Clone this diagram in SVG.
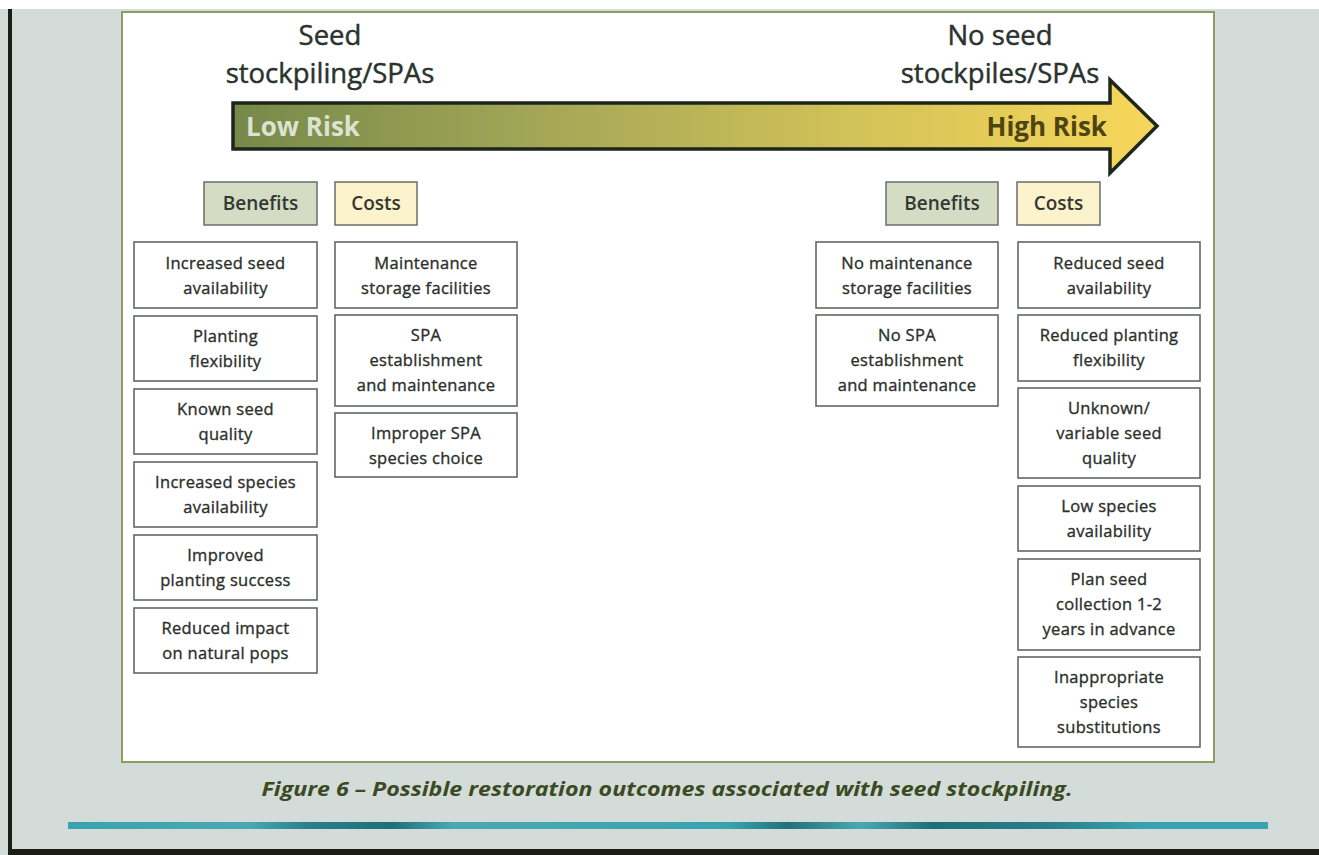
<svg xmlns="http://www.w3.org/2000/svg" width="1319" height="855" viewBox="0 0 1319 855">
<defs>
<linearGradient id="arrowGrad" x1="233" y1="0" x2="1157" y2="0" gradientUnits="userSpaceOnUse">
<stop offset="0" stop-color="#76894a"/>
<stop offset="0.35" stop-color="#a6a857"/>
<stop offset="0.7" stop-color="#d6c458"/>
<stop offset="1" stop-color="#f7d75a"/>
</linearGradient>
<linearGradient id="stripe" x1="68" y1="0" x2="1268" y2="0" gradientUnits="userSpaceOnUse">
<stop offset="0" stop-color="#3aa3b0"/>
<stop offset="0.15" stop-color="#4aa8b2"/>
<stop offset="0.2" stop-color="#2a7f8c"/>
<stop offset="0.27" stop-color="#1f6f7c"/>
<stop offset="0.32" stop-color="#4aa8b2"/>
<stop offset="0.55" stop-color="#3aa3b0"/>
<stop offset="0.6" stop-color="#22707c"/>
<stop offset="0.66" stop-color="#4aa8b2"/>
<stop offset="0.72" stop-color="#1f6f7c"/>
<stop offset="0.82" stop-color="#2a7f8c"/>
<stop offset="0.9" stop-color="#3aa3b0"/>
<stop offset="1" stop-color="#3aa3b0"/>
</linearGradient>
</defs>
<style>
.box{fill:#ffffff;stroke:#5a5f5a;stroke-width:1.5}
.ben{fill:#d4dcc4;stroke:#6a6f6a;stroke-width:1.5}
.cost{fill:#fcf2cc;stroke:#6a6f6a;stroke-width:1.5}
.t{font-family:"Open Sans","Noto Sans",sans-serif;font-size:16.5px;font-weight:500;fill:#2b302b;stroke:#2b302b;stroke-width:0.35;text-anchor:middle;letter-spacing:0.3px}
.h{font-family:"Open Sans","Noto Sans",sans-serif;font-size:19px;font-weight:600;fill:#333833;text-anchor:middle}
.title{font-family:"Open Sans","Noto Sans",sans-serif;font-size:27.5px;font-weight:500;fill:#2a332e;stroke:#2a332e;stroke-width:0.45;text-anchor:middle}
.risk{font-family:"Open Sans","Noto Sans",sans-serif;font-size:26px;font-weight:700}
.cap{font-family:"Open Sans","Noto Sans",sans-serif;font-size:20px;font-weight:700;font-style:italic;fill:#3b4a22;text-anchor:middle}
</style>
<!-- background -->
<rect x="0" y="0" width="1319" height="855" fill="#d3dcd8"/>
<rect x="0" y="0" width="1319" height="9" fill="#ffffff"/>
<rect x="8" y="9" width="4" height="846" fill="#1a1e14"/>
<rect x="8" y="849" width="1311" height="6" fill="#1a1e14"/>
<rect x="68" y="822" width="1200" height="7" fill="url(#stripe)"/>
<!-- panel -->
<rect x="122" y="12" width="1092" height="750" fill="#ffffff" stroke="#8c9d5e" stroke-width="2"/>
<g id="title-left">
<text class="title" x="330" y="45">Seed</text>
<text class="title" x="330" y="83">stockpiling/SPAs</text>
</g>
<g id="title-right">
<text class="title" x="1000" y="45">No seed</text>
<text class="title" x="1000" y="83">stockpiles/SPAs</text>
</g>
<g id="risk-arrow">
<path d="M233,103 L1110,103 L1110,80 L1157,126 L1110,173 L1110,149 L233,149 Z" fill="url(#arrowGrad)" stroke="#1e261c" stroke-width="3.5" stroke-linejoin="miter"/>
<text class="risk" x="246" y="136" fill="#dbe3d2">Low Risk</text>
<text class="risk" x="1107" y="136" fill="#4d4412" text-anchor="end">High Risk</text>
</g>
<g id="hdr-benefits-left"><rect class="ben" x="204" y="182" width="113" height="43"/><text class="h" x="260.5" y="210">Benefits</text></g>
<g id="hdr-costs-left"><rect class="cost" x="335" y="182" width="82" height="43"/><text class="h" x="376" y="210">Costs</text></g>
<g id="hdr-benefits-right"><rect class="ben" x="886" y="182" width="112" height="43"/><text class="h" x="942" y="210">Benefits</text></g>
<g id="hdr-costs-right"><rect class="cost" x="1017" y="182" width="83" height="43"/><text class="h" x="1058.5" y="210">Costs</text></g>
<!-- left benefits -->
<g id="lb1"><rect class="box" x="134" y="242" width="183" height="66"/><text class="t" x="225.5" y="269">Increased seed</text><text class="t" x="225.5" y="294">availability</text></g>
<g id="lb2"><rect class="box" x="134" y="316" width="183" height="65"/><text class="t" x="225.5" y="342">Planting</text><text class="t" x="225.5" y="367">flexibility</text></g>
<g id="lb3"><rect class="box" x="134" y="389" width="183" height="65"/><text class="t" x="225.5" y="415">Known seed</text><text class="t" x="225.5" y="440">quality</text></g>
<g id="lb4"><rect class="box" x="134" y="462" width="183" height="65"/><text class="t" x="225.5" y="488">Increased species</text><text class="t" x="225.5" y="513">availability</text></g>
<g id="lb5"><rect class="box" x="134" y="535" width="183" height="65"/><text class="t" x="225.5" y="561">Improved</text><text class="t" x="225.5" y="586">planting success</text></g>
<g id="lb6"><rect class="box" x="134" y="608" width="183" height="65"/><text class="t" x="225.5" y="634">Reduced impact</text><text class="t" x="225.5" y="659">on natural pops</text></g>
<!-- left costs -->
<g id="lc1"><rect class="box" x="335" y="242" width="182" height="66"/><text class="t" x="426" y="269">Maintenance</text><text class="t" x="426" y="294">storage facilities</text></g>
<g id="lc2"><rect class="box" x="335" y="315" width="182" height="91"/><text class="t" x="426" y="341">SPA</text><text class="t" x="426" y="366">establishment</text><text class="t" x="426" y="391">and maintenance</text></g>
<g id="lc3"><rect class="box" x="335" y="413" width="182" height="64"/><text class="t" x="426" y="439">Improper SPA</text><text class="t" x="426" y="464">species choice</text></g>
<!-- right benefits -->
<g id="rb1"><rect class="box" x="816" y="242" width="182" height="66"/><text class="t" x="907" y="269">No maintenance</text><text class="t" x="907" y="294">storage facilities</text></g>
<g id="rb2"><rect class="box" x="816" y="315" width="182" height="91"/><text class="t" x="907" y="341">No SPA</text><text class="t" x="907" y="366">establishment</text><text class="t" x="907" y="391">and maintenance</text></g>
<!-- right costs -->
<g id="rc1"><rect class="box" x="1018" y="242" width="182" height="66"/><text class="t" x="1109" y="269">Reduced seed</text><text class="t" x="1109" y="294">availability</text></g>
<g id="rc2"><rect class="box" x="1018" y="315" width="182" height="66"/><text class="t" x="1109" y="341">Reduced planting</text><text class="t" x="1109" y="366">flexibility</text></g>
<g id="rc3"><rect class="box" x="1018" y="388" width="182" height="90"/><text class="t" x="1109" y="414">Unknown/</text><text class="t" x="1109" y="439">variable seed</text><text class="t" x="1109" y="464">quality</text></g>
<g id="rc4"><rect class="box" x="1018" y="486" width="182" height="65"/><text class="t" x="1109" y="512">Low species</text><text class="t" x="1109" y="537">availability</text></g>
<g id="rc5"><rect class="box" x="1018" y="559" width="182" height="91"/><text class="t" x="1109" y="585">Plan seed</text><text class="t" x="1109" y="610">collection 1-2</text><text class="t" x="1109" y="635">years in advance</text></g>
<g id="rc6"><rect class="box" x="1018" y="657" width="182" height="90"/><text class="t" x="1109" y="683">Inappropriate</text><text class="t" x="1109" y="708">species</text><text class="t" x="1109" y="733">substitutions</text></g>
<g id="connectors"></g>
<text class="cap" x="667" y="796" textLength="811" lengthAdjust="spacingAndGlyphs">Figure 6 – Possible restoration outcomes associated with seed stockpiling.</text>
</svg>
